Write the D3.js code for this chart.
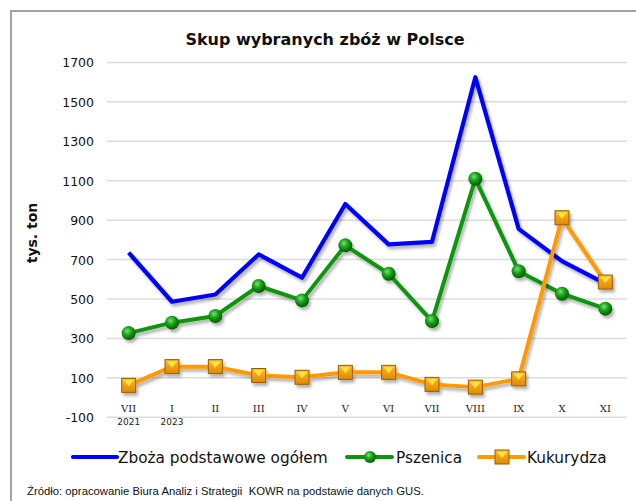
<!DOCTYPE html>
<html><head><meta charset="utf-8">
<script src="https://cdn.jsdelivr.net/npm/d3@7"></script>
<style>body{margin:0;background:#fff}svg{display:block}</style>
</head><body>
<svg id="c" width="636" height="501"></svg>
<script>
const months = ["VII","I","II","III","IV","V","VI","VII","VIII","IX","X","XI"];
const years = ["2021","2023","","","","","","","","","",""];
const zboza = [735, 486, 523, 726, 608, 982, 777, 790, 1625, 856, 692, 578];
const pszenica = [327, 380, 414, 566, 493, 772, 628, 388, 1110, 641, 527, 451];
const kukurydza = [62, 157, 157, 112, 103, 128, 128, 67, 53, 95, 912, 586];
const yTicks = [-100, 100, 300, 500, 700, 900, 1100, 1300, 1500, 1700];
const seriesNames = ["Zboża podstawowe ogółem", "Pszenica", "Kukurydza"];

const svg = d3.select("#c");
const defs = svg.append("defs");
const f = defs.append("filter").attr("id","sh").attr("x","-20%").attr("y","-20%").attr("width","140%").attr("height","140%");
f.append("feDropShadow").attr("dx",2).attr("dy",3).attr("stdDeviation",1.6).attr("flood-color","#000").attr("flood-opacity",0.3);
const rg = defs.append("radialGradient").attr("id","gball").attr("cx","40%").attr("cy","35%").attr("r","65%");
rg.append("stop").attr("offset","0%").attr("stop-color","#7be07b");
rg.append("stop").attr("offset","45%").attr("stop-color","#1aa31a");
rg.append("stop").attr("offset","100%").attr("stop-color","#005a00");
const lg = defs.append("linearGradient").attr("id","osq").attr("x1","0").attr("y1","0").attr("x2","0").attr("y2","1");
lg.append("stop").attr("offset","0%").attr("stop-color","#ffb52e");
lg.append("stop").attr("offset","100%").attr("stop-color","#e08a00");

// frame
svg.append("rect").attr("x",11).attr("y",11).attr("width",700).attr("height",700)
  .attr("fill","none").attr("stroke","#a3a3a3").attr("stroke-width",2);

const x = d3.scalePoint().domain(d3.range(months.length)).range([107, 627]).padding(0.5);
const y = d3.scaleLinear().domain([-100, 1700]).range([417.3, 62.4]);

// gridlines
svg.append("g").selectAll("line").data(yTicks).join("line")
  .attr("x1",107).attr("x2",627).attr("y1",d=>y(d)).attr("y2",d=>y(d))
  .attr("stroke","#dcdcdc").attr("stroke-width",1.5);

// y axis
const yAxis = d3.axisLeft(y).tickValues(yTicks).tickSize(0).tickPadding(0).tickFormat(d=>String(d));
const ga = svg.append("g").attr("transform","translate(94,0)").call(yAxis);
ga.select(".domain").remove();
ga.selectAll("text").attr("font-family","DejaVu Sans").attr("font-size","12.5px").attr("fill","#111").attr("dy","0.36em");

// x labels
const xg = svg.append("g");
xg.selectAll("text.m").data(months).join("text").attr("class","m")
  .attr("x",(d,i)=>x(i)).attr("y",412).attr("text-anchor","middle")
  .attr("font-family","DejaVu Serif").attr("font-size","10px").attr("fill","#222").text(d=>d);
xg.selectAll("text.yr").data(years).join("text").attr("class","yr")
  .attr("x",(d,i)=>x(i)).attr("y",425).attr("text-anchor","middle")
  .attr("font-family","DejaVu Sans").attr("font-size","9px").attr("fill","#222").text(d=>d);

// title
svg.append("text").attr("x",325).attr("y",45).attr("text-anchor","middle")
  .attr("font-family","DejaVu Sans").attr("font-weight","bold").attr("font-size","16px").attr("fill","#111")
  .text("Skup wybranych zbóż w Polsce");
svg.append("text").attr("transform","translate(37,233) rotate(-90)").attr("text-anchor","middle")
  .attr("font-family","DejaVu Sans").attr("font-weight","bold").attr("font-size","14px").attr("fill","#111")
  .text("tys. ton");

const line = d3.line().x((d,i)=>x(i)).y(d=>y(d));

function drawSquare(g, cx, cy){
  const s = 14;
  const gg = g.append("g").attr("transform",`translate(${cx},${cy})`);
  gg.append("rect").attr("x",-s/2).attr("y",-s/2).attr("width",s).attr("height",s)
    .attr("fill","url(#osq)").attr("stroke","#9a5c00").attr("stroke-width",1);
  gg.append("path").attr("d",`M${-s/2+1.5},${-s/2+1.5}L${s/2-1.5},${-s/2+1.5}L0,1Z`).attr("fill","#ffe23a");
}

const plot = svg.append("g");
// blue
plot.append("path").datum(zboza).attr("d",line).attr("fill","none").attr("stroke","#0000ff")
  .attr("stroke-width",4.2).attr("stroke-linejoin","round").attr("filter","url(#sh)");
// green
const gG = plot.append("g").attr("filter","url(#sh)");
gG.append("path").datum(pszenica).attr("d",line).attr("fill","none").attr("stroke","#0a960a")
  .attr("stroke-width",4).attr("stroke-linejoin","round");
gG.selectAll("circle").data(pszenica).join("circle").attr("cx",(d,i)=>x(i)).attr("cy",d=>y(d))
  .attr("r",7).attr("fill","url(#gball)");
// orange
const gO = plot.append("g").attr("filter","url(#sh)");
gO.append("path").datum(kukurydza).attr("d",line).attr("fill","none").attr("stroke","#ff9900")
  .attr("stroke-width",4).attr("stroke-linejoin","round");
kukurydza.forEach((d,i)=>drawSquare(gO, x(i), y(d)));

// legend
const lgd = svg.append("g");
const ly = 457;
lgd.append("line").attr("x1",73).attr("x2",117).attr("y1",ly).attr("y2",ly).attr("stroke","#0000ff").attr("stroke-width",4.2).attr("stroke-linecap","round");
lgd.append("text").attr("x",118).attr("y",463).attr("font-family","DejaVu Sans").attr("font-size","15.3px").attr("fill","#111").text(seriesNames[0]);
lgd.append("line").attr("x1",347).attr("x2",392).attr("y1",ly).attr("y2",ly).attr("stroke","#0a960a").attr("stroke-width",4).attr("stroke-linecap","round");
lgd.append("circle").attr("cx",370).attr("cy",ly).attr("r",6).attr("fill","url(#gball)");
lgd.append("text").attr("x",396).attr("y",463).attr("font-family","DejaVu Sans").attr("font-size","15.3px").attr("fill","#111").text(seriesNames[1]);
lgd.append("line").attr("x1",479).attr("x2",524).attr("y1",ly).attr("y2",ly).attr("stroke","#ff9900").attr("stroke-width",4).attr("stroke-linecap","round");
drawSquare(lgd, 502, ly);
lgd.append("text").attr("x",527).attr("y",463).attr("font-family","DejaVu Sans").attr("font-size","15.3px").attr("fill","#111").text(seriesNames[2]);

// source
svg.append("text").attr("x",27).attr("y",495).attr("font-family","Liberation Sans").attr("font-size","11.3px").attr("fill","#111")
  .attr("xml:space","preserve").style("white-space","pre")
  .text("Źródło: opracowanie Biura Analiz i Strategii  KOWR na podstawie danych GUS.");
</script>
</body></html>
